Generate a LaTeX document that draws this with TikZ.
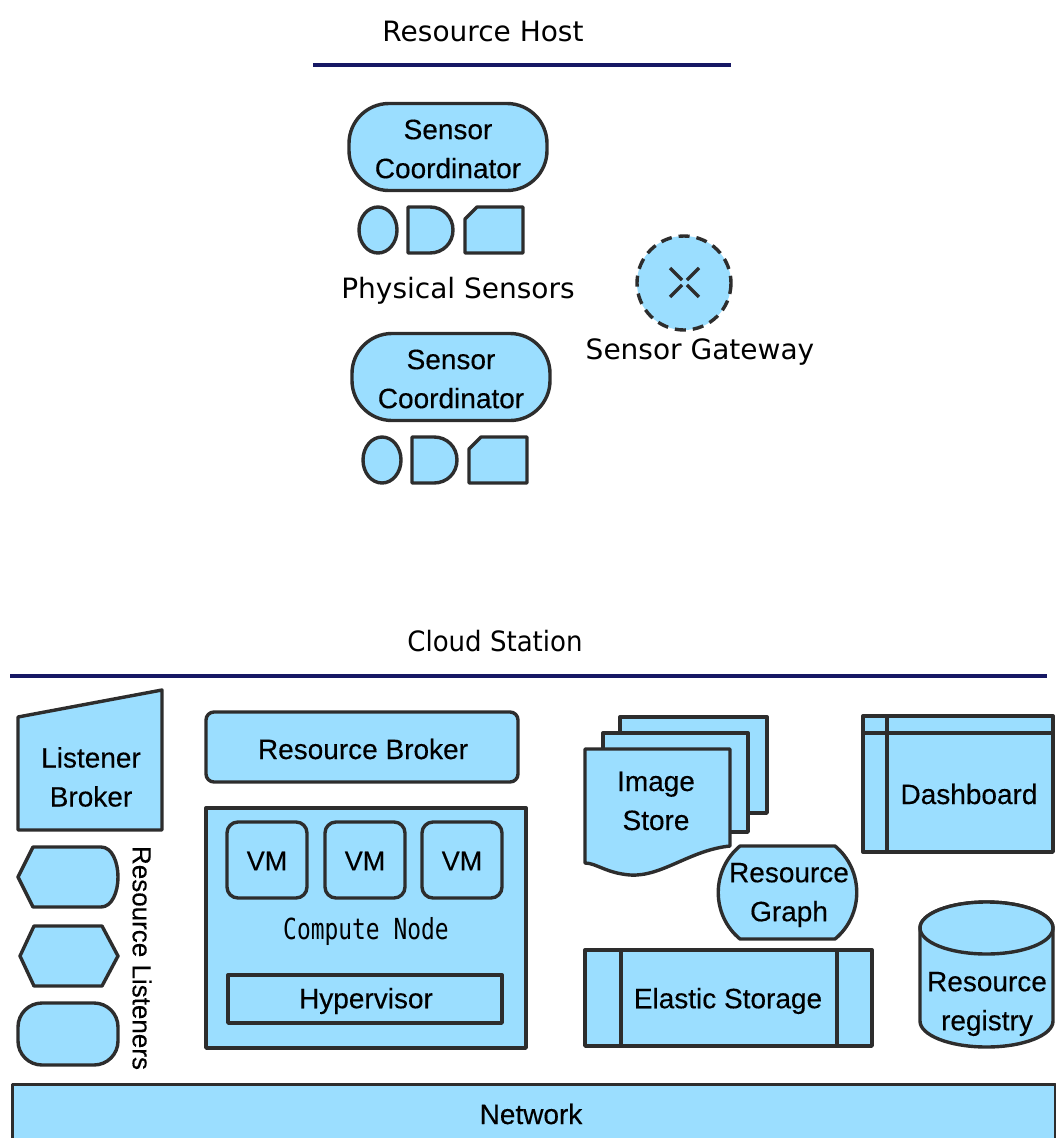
\documentclass[tikz,border=0pt]{standalone}
\usepackage{fontspec}
\usepackage{graphicx}
\setmainfont{DejaVu Sans}
\newfontfamily\boxfont{Liberation Sans}[FakeBold=0.3]
\newfontfamily\codefont{DejaVu Sans Mono}
\definecolor{skyfill}{RGB}{155,222,255}
\definecolor{edgegray}{RGB}{45,45,45}
\definecolor{navyrule}{RGB}{22,24,100}
\tikzset{
  part/.style={draw=edgegray, fill=skyfill, line width=3.4pt, line join=round},
  inner/.style={draw=edgegray, line width=3.4pt},
  lbl/.style={font=\boxfont\fontsize{28}{39}\selectfont, align=center, inner sep=0pt, text=black},
  head/.style={font=\fontsize{28}{34}\selectfont, inner sep=0pt, text=black},
  rulebar/.style={draw=navyrule, line width=4.5pt},
}
\begin{document}
\begin{tikzpicture}[x=1pt,y=-1pt]
\useasboundingbox (0,0) rectangle (1055,1138);

% ---------------- Resource host ----------------
\node[head] (hosttitle) at (483,31) {Resource Host};
\coordinate (hostL) at (313,65);
\coordinate (hostR) at (731,65);
\draw[rulebar] (hostL) -- (hostR);

% two sensor coordinators, each with its row of physical sensors
\foreach \dx/\dy/\k in {0/0/1, 3/230/2}{
  \begin{scope}[shift={(\dx,\dy)}]
    \node[part, lbl, rounded corners=40pt, minimum width=198pt, minimum height=87pt]
      (coord\k) at (448,147) {};
    \node[lbl] (coordtext\k) at (448,149) {Sensor\\Coordinator};
  \end{scope}
}
\foreach \dx/\dy in {0/0, 4/230}{
  \begin{scope}[shift={(\dx,\dy)}]
    \draw[part] (378,230) ellipse [x radius=19, y radius=23];
    \draw[part] (408,207) -- (430,207)
      .. controls (443,207) and (453,217) .. (453,230)
      .. controls (453,243) and (443,253) .. (430,253) -- (408,253) -- cycle;
    \draw[part] (477,207) -- (523,207) -- (523,253) -- (465,253) -- (465,219) -- cycle;
  \end{scope}
}
\node[head] (physlabel) at (458,291) {Physical Sensors};

% sensor gateway
\draw[part, dash pattern=on 11pt off 7pt] (684,283) circle [radius=47];
\draw[inner, dash pattern=on 17pt off 7pt] (670,268) -- (699,297);
\draw[inner, dash pattern=on 17pt off 7pt] (699,268) -- (670,297);
\node[head] (gatewaylabel) at (700,352) {Sensor Gateway};

% ---------------- Cloud station ----------------
\node[head, xscale=0.93] (cloudtitle) at (495,641) {Cloud Station};
\coordinate (cloudL) at (10,676);
\coordinate (cloudR) at (1047,676);
\draw[rulebar] (cloudL) -- (cloudR);

% listener broker and resource listeners
\draw[part] (18,717) -- (162,690) -- (162,830) -- (18,830) -- cycle;
\node[lbl] (broker) at (91,777) {Listener\\Broker};
\draw[part] (33,847) -- (101,847) .. controls (112,847) and (118,862) .. (118,877)
  .. controls (118,892) and (112,907) .. (101,907) -- (33,907) -- (18,877) -- cycle;
\draw[part] (34,926) -- (102,926) -- (118,956) -- (102,986) -- (34,986) -- (20,956) -- cycle;
\node[part, rounded corners=24pt, minimum width=100pt, minimum height=62pt] (listener3) at (68,1034) {};
\node[lbl, font=\boxfont\fontsize{26}{30}\selectfont, rotate=-90] (listenerlabel) at (142,958) {Resource Listeners};

% resource broker and compute node
\node[part, rounded corners=8pt, minimum width=312pt, minimum height=70pt] (resbroker) at (362,747) {};
\node[lbl] (resbrokertext) at (363,749) {Resource Broker};
\node[part, minimum width=320pt, minimum height=240pt] (compute) at (366,928) {};
\foreach \x/\k in {267/1, 365/2, 462/3}{
  \node[part, rounded corners=11pt, minimum width=80pt, minimum height=76pt] (vm\k) at (\x,860) {};
  \node[lbl, font=\boxfont\fontsize{27}{30}\selectfont] (vmtext\k) at (\x,861) {VM};
}
\node[inner sep=0pt] (computelabel) at (366,931)
  {\scalebox{0.79}[1]{\codefont\fontsize{29}{32}\selectfont Compute Node}};
\node[part, minimum width=274pt, minimum height=48pt] (hypervisor) at (365,999) {};
\node[lbl] (hypertext) at (366,1001) {Hypervisor};

% image store (stacked documents)
\draw[part] (620,717) rectangle (767,813);
\draw[part] (603,733) rectangle (748,832);
\draw[part] (585,749) -- (730,749) -- (730,846)
  .. controls (690,850) and (662,877) .. (630,875)
  .. controls (606,873) and (596,863) .. (585,863) -- cycle;
\node[lbl] (imagestore) at (656,801) {Image\\Store};

% resource graph
\draw[part] (740,846) -- (835,846) .. controls (864,870) and (864,915) .. (835,939)
  -- (740,939) .. controls (711,915) and (711,870) .. (740,846) -- cycle;
\node[lbl] (resgraph) at (789,895) {Resource\\Graph};

% elastic storage
\node[part, minimum width=287pt, minimum height=96pt] (elastic) at (728.5,998) {};
\draw[inner] (621,950) -- (621,1046);
\draw[inner] (837,950) -- (837,1046);
\node[lbl] (elastictext) at (728,1001) {Elastic Storage};

% dashboard
\node[part, minimum width=190pt, minimum height=136pt] (dashboard) at (958,784) {};
\draw[inner] (863,733) -- (1053,733);
\draw[inner] (887,716) -- (887,852);
\node[lbl] (dashlabel) at (969,794) {Dashboard};

% resource registry cylinder
\draw[part] (920,928) -- (920,1021) arc[start angle=180, end angle=0, x radius=66.5, y radius=26]
  -- (1053,928) arc[start angle=0, end angle=-180, x radius=66.5, y radius=26] -- cycle;
\draw[part] (986.5,928) ellipse [x radius=66.5, y radius=26];
\node[lbl] (registry) at (987,1004) {Resource\\registry};

% network
\node[part, minimum width=1043pt, minimum height=62pt, anchor=north west] (network) at (11,1083) {};
\node[lbl] (netlabel) at (531,1114) {Network};
\end{tikzpicture}
\end{document}
